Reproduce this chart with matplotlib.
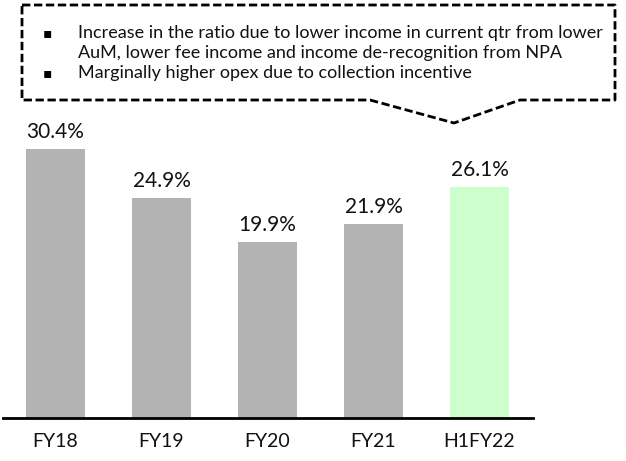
import matplotlib.pyplot as plt
from matplotlib.lines import Line2D

categories = ["FY18", "FY19", "FY20", "FY21", "H1FY22"]
values = [30.4, 24.9, 19.9, 21.9, 26.1]
labels = ["30.4%", "24.9%", "19.9%", "21.9%", "26.1%"]
colors = ["#b3b3b3", "#b3b3b3", "#b3b3b3", "#b3b3b3", "#ccffcc"]
notes = ["Increase in the ratio due to lower income in current qtr from lower",
         "AuM, lower fee income and income de-recognition from NPA",
         "Marginally higher opex due to collection incentive"]
bullets = [True, False, True]

plt.rcParams['font.family'] = ['Lato', 'DejaVu Sans']

W, H = 626, 461
fig = plt.figure(figsize=(W / 100, H / 100), dpi=100)
# axes placed in pixels: x 2.5..532.5, baseline at y=418
ax = fig.add_axes([2.5 / W, (H - 418) / H, 530 / W, 354 / H])
ax.bar(range(len(values)), values, width=0.557, color=colors)
ax.set_xlim(-0.5, 4.5)
ax.set_ylim(0, 40)
for i, (v, s) in enumerate(zip(values, labels)):
    ax.annotate(s, (i, v), xytext=(0, 8), textcoords='offset points',
                ha='center', va='baseline', fontsize=15, color='#111111')
ax.set_xticks(range(len(categories)))
ax.set_xticklabels(categories, fontsize=14, color='#111111')
ax.tick_params(axis='x', length=0, pad=11)
ax.set_yticks([])
for side in ['left', 'right', 'top']:
    ax.spines[side].set_visible(False)
ax.spines['bottom'].set_linewidth(2)
ax.spines['bottom'].set_color('black')

# dashed callout box, in pixel coords from top-left
pts = [(22, 5), (615, 5), (615, 100), (520, 100), (454, 123), (370, 100), (22, 100), (22, 5)]
xs = [p[0] / W for p in pts]
ys = [1 - p[1] / H for p in pts]
fig.add_artist(Line2D(xs, ys, transform=fig.transFigure, color='black', lw=2,
                      linestyle=(0, (3, 1.3)), solid_joinstyle='miter'))

for k, (t, b) in enumerate(zip(notes, bullets)):
    y = 1 - (38 + 20 * k) / H
    if b:
        fig.text(43 / W, y + 1 / H, "\u25aa", fontsize=10, family='DejaVu Sans', va='baseline')
    fig.text(78 / W, y, t, fontsize=13, va='baseline', color='#111111')

fig.savefig("out.png", dpi=100)
